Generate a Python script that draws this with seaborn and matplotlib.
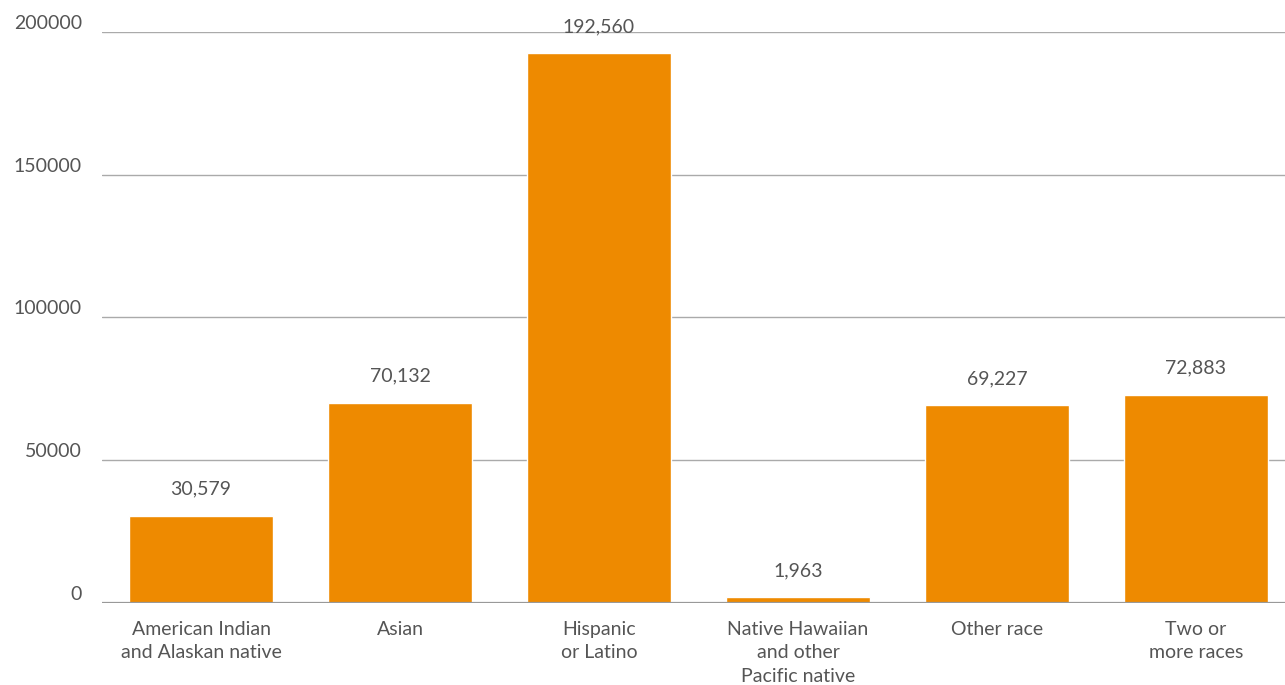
import matplotlib
matplotlib.use("Agg")
import matplotlib.pyplot as plt
import seaborn as sns
import pandas as pd

# data
categories = [
    "American Indian\nand Alaskan native",
    "Asian",
    "Hispanic\nor Latino",
    "Native Hawaiian\nand other\nPacific native",
    "Other race",
    "Two or\nmore races",
]
population = [30579, 70132, 192560, 1963, 69227, 72883]
y_ticks = [0, 50000, 100000, 150000, 200000]

BAR_COLOR = "#EE8A00"
TEXT_COLOR = "#555555"
GRID_COLOR = "#AAAAAA"

sns.set_theme(style="white")
plt.rcParams["font.family"] = ["Lato", "DejaVu Sans"]

df = pd.DataFrame({"category": categories, "population": population})

fig = plt.figure(figsize=(12.85, 6.85), dpi=100)
# axes runs a little past the right edge, as in the reference
ax = fig.add_axes([101.5 / 1285, 82 / 685, 1194 / 1285, (603 - 32) / 685])

sns.barplot(data=df, x="category", y="population", color=BAR_COLOR,
            saturation=1, width=0.724, ax=ax)

ax.set_ylim(0, 200000)
ax.set_yticks(y_ticks)
ax.set_yticklabels([str(v) for v in y_ticks])
ax.yaxis.grid(True, color=GRID_COLOR, linewidth=1)
ax.set_axisbelow(True)
for s in ax.spines.values():
    s.set_visible(False)
ax.axhline(0, color="#999999", linewidth=1.6, zorder=3)

ax.tick_params(axis="y", length=0, pad=14, labelsize=14, labelcolor=TEXT_COLOR)
ax.tick_params(axis="x", length=0, pad=13, labelsize=14, labelcolor=TEXT_COLOR)
for lab in ax.get_yticklabels():
    lab.set_verticalalignment("bottom")
for lab in ax.get_xticklabels():
    lab.set_linespacing(1.45)

ax.set_xlabel("")
ax.set_ylabel("")

ax.bar_label(ax.containers[0], labels=[f"{v:,}" for v in population],
             padding=13, fontsize=14, color=TEXT_COLOR)

fig.savefig("out.png", dpi=100)
plt.close()
